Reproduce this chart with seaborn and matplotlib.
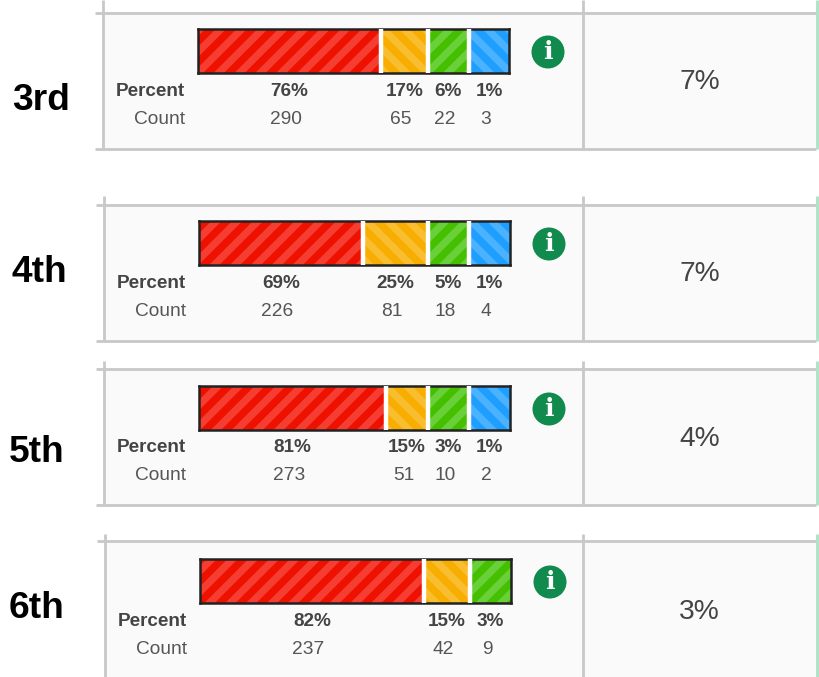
import matplotlib
matplotlib.use("Agg")
import matplotlib.pyplot as plt
import seaborn as sns
from matplotlib.patches import Circle
from matplotlib.transforms import blended_transform_factory as blend

W, H = 819, 677
DPI = 125          # chosen so the hatch tile gives the reference's stripe period
PT = 100 / DPI     # converts sizes judged at 100 dpi

sns.set_theme(style="white")
plt.rcParams["font.family"] = ["Liberation Sans", "DejaVu Sans"]
plt.rcParams["hatch.linewidth"] = 4.2

grades = ["3rd", "4th", "5th", "6th"]
percents = [["76%", "17%", "6%", "1%"], ["69%", "25%", "5%", "1%"],
            ["81%", "15%", "3%", "1%"], ["82%", "15%", "3%"]]
counts = [[290, 65, 22, 3], [226, 81, 18, 4], [273, 51, 10, 2], [237, 42, 9]]
# displayed segment widths, as share of bar length (the bars use minimum widths)
shares = [[58.8, 15.1, 13.2, 12.9], [52.7, 20.9, 13.2, 13.2],
          [60.1, 13.5, 13.2, 13.2], [72.0, 14.8, 13.2]]
overall = ["7%", "7%", "4%", "3%"]
seg_colors = ["#ee1100", "#f7ae00", "#44c000", "#1e9eff"]
stripe_colors = ["#f53d32", "#f9bd30", "#6ad03a", "#4ab2ff"]
seg_hatch = ["//", "\\\\", "//", "\\\\"]

# layout: pixel positions per row
bar_x = [198, 199, 199, 200]
bar_top = [29, 221, 386, 559]
bar_w, bar_h = 311, 44
rule_top = [13, 205, 369, 541]
rule_bot = [149, 341, 505, None]
vline_top = [0, 196, 361, 534]
vline_bot = [149, 341, 505, 677]
left_x = [103, 104, 104, 105]
rule_x0 = [95, 96, 96, 97]
mid_x = [583, 583, 583, 583]
right_x = 816
label_x = [41, 39.5, 36.5, 37]
label_y = [100, 273, 452, 608]
grey = "#c8c8c8"

fig = plt.figure(figsize=(W / DPI, H / DPI), dpi=DPI, facecolor="white")
bg = fig.add_axes([0, 0, 1, 1])
bg.set_xlim(0, W)
bg.set_ylim(H, 0)
bg.axis("off")

for i, grade in enumerate(grades):
    bottom = rule_bot[i] if rule_bot[i] is not None else H
    bg.fill_between([left_x[i], right_x], rule_top[i], bottom, color="#fafafa", lw=0, zorder=0)
    bg.hlines(rule_top[i], rule_x0[i], right_x, color=grey, lw=2 * PT, zorder=1)
    if rule_bot[i] is not None:
        bg.hlines(rule_bot[i], rule_x0[i], right_x, color=grey, lw=2 * PT, zorder=1)
    bg.vlines([left_x[i], mid_x[i]], vline_top[i], vline_bot[i], color=grey, lw=2 * PT, zorder=1)
    bg.vlines(right_x + 1, vline_top[i], vline_bot[i], color="#a9e2c4", lw=2 * PT, zorder=1)

    bg.text(label_x[i], label_y[i], grade, fontsize=26.7 * PT, fontweight="bold", color="black",
            ha="center", va="center")
    top = bar_top[i]
    bg.text(bar_x[i] - 13, top + 62, "Percent", fontsize=13.6 * PT, fontweight="bold", color="#444444",
            ha="right", va="center")
    bg.text(bar_x[i] - 13, top + 90, "Count", fontsize=13.8 * PT, color="#555555", ha="right", va="center")
    bg.text((mid_x[i] + right_x) / 2, top + 53, overall[i], fontsize=20.3 * PT, color="#444444",
            ha="center", va="center")

    ix, iy = bar_x[i] + 350, top + 23
    bg.add_patch(Circle((ix, iy), 16.5, color="#118a4e", lw=0, zorder=2))
    bg.text(ix, iy, "i", fontsize=18 * PT, fontweight="bold", color="white", ha="center",
            va="center", family=["DejaVu Serif"], zorder=3)

    ax = fig.add_axes([bar_x[i] / W, 1 - (top + bar_h) / H, bar_w / W, bar_h / H])
    ax.patch.set_alpha(0)
    cums = [sum(shares[i][:k + 1]) for k in range(len(shares[i]))]
    for k in reversed(range(len(cums))):
        sns.barplot(x=[cums[k]], y=[grade], orient="h", color=seg_colors[k], saturation=1,
                    width=1, edgecolor=stripe_colors[k], hatch=seg_hatch[k], linewidth=0, ax=ax)
    ax.set_xlim(0, 100)
    ax.set_ylim(0.5, -0.5)
    ax.set_xticks([])
    ax.set_yticks([])
    ax.set_xlabel("")
    ax.set_ylabel("")
    ax.vlines(cums[:-1], 0.5, -0.5, color="white", lw=3.2 * PT, zorder=5)
    for s in ax.spines.values():
        s.set_visible(True)
        s.set_color("#222222")
        s.set_linewidth(1.8 * PT)

    tr = blend(ax.transData, bg.transData)
    start = 0
    for k, share in enumerate(shares[i]):
        centre = start + share / 2
        bg.text(centre, top + 62, percents[i][k], transform=tr, fontsize=13.6 * PT, fontweight="bold",
                color="#444444", ha="center", va="center")
        bg.text(centre - 1.1, top + 90, str(counts[i][k]), transform=tr, fontsize=13.8 * PT,
                color="#555555", ha="center", va="center")
        start += share

fig.savefig("out.png", dpi=DPI)
